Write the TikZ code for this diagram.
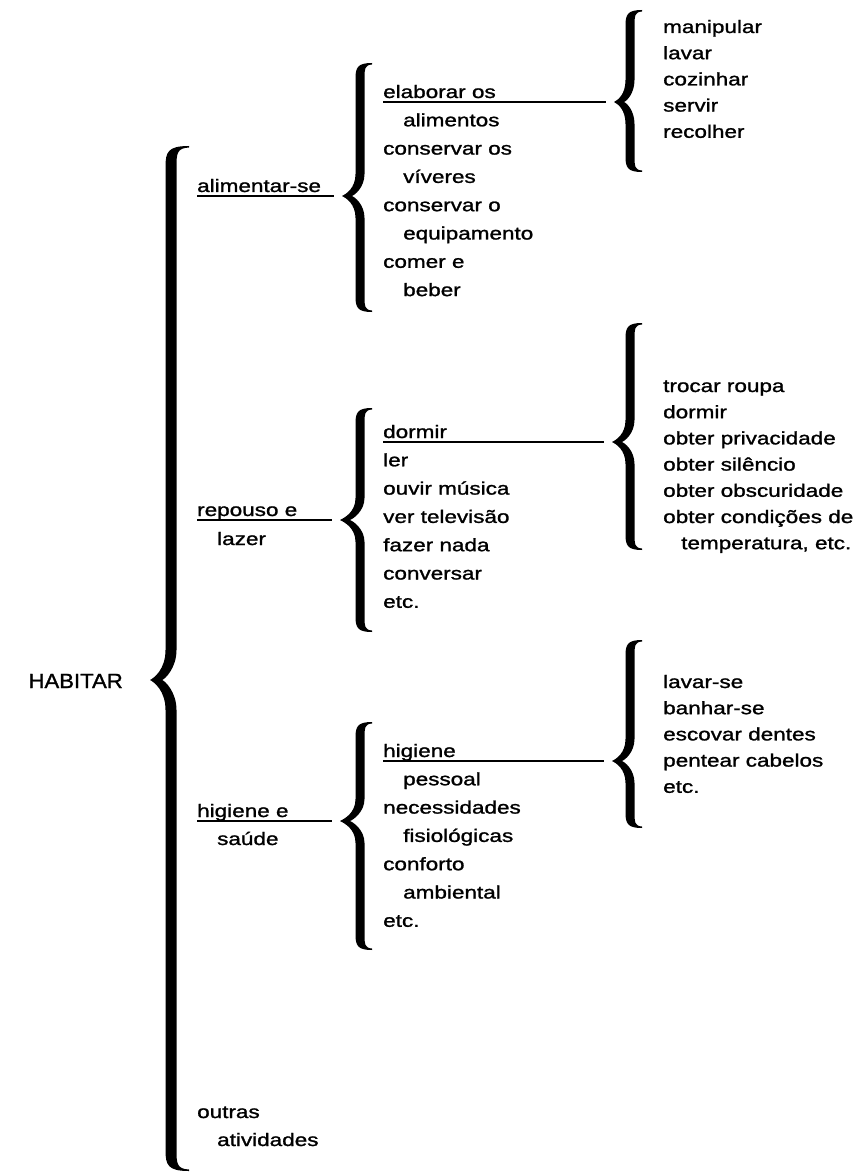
\documentclass[tikz,border=0pt]{standalone}
\usepackage{fontspec}
\usetikzlibrary{calc}
\newfontfamily\labelfont{Liberation Sans}[FakeStretch=1.25,FakeBold=1.3]
\newfontfamily\titlefont{Liberation Sans}[FakeStretch=1.08,FakeBold=1.3]

% Filled curly brace opening to the right.
% #1 name of the tip coordinate, #2 stroke x, #3 top y, #4 tip y, #5 bottom y,
% #6 tip x, #7 half stroke width, #8 reach of the curled ends, #9 radius at the tip
\newcommand\curlybrace[9]{%
  \fill ({#2+#8},{#3})
    .. controls ({#2-#7+2},{#3}) and ({#2-#7},{#3+0.21*#9}) .. ({#2-#7},{#3+0.7*#9})
    -- ({#2-#7},{#4-#9})
    .. controls ({#2-#7},{#4-0.35*#9}) and ({#6+4},{#4-2}) .. ({#6},{#4})
    .. controls ({#6+4},{#4+2}) and ({#2-#7},{#4+0.35*#9}) .. ({#2-#7},{#4+#9})
    -- ({#2-#7},{#5-0.7*#9})
    .. controls ({#2-#7},{#5-0.21*#9}) and ({#2-#7+2},{#5}) .. ({#2+#8},{#5})
    -- ({#2+#8},{#5-1.5})
    .. controls ({#2+#7},{#5-2}) and ({#2+#7},{#5-0.28*#9}) .. ({#2+#7},{#5-0.7*#9})
    -- ({#2+#7},{#4+#9})
    .. controls ({#2+#7},{#4+0.4*#9}) and ({#6+2.2*#7+3},{#4+1}) .. ({#6+2.2*#7},{#4})
    .. controls ({#6+2.2*#7+3},{#4-1}) and ({#2+#7},{#4-0.4*#9}) .. ({#2+#7},{#4-#9})
    -- ({#2+#7},{#3+0.7*#9})
    .. controls ({#2+#7},{#3+0.28*#9}) and ({#2+#7},{#3+2}) .. ({#2+#8},{#3+1.5})
    -- cycle;
  \coordinate (#1) at ({#6},{#4});%
}

\tikzset{
  lbl/.style={anchor=base west, inner sep=0pt,
    font=\labelfont\fontsize{18}{21}\selectfont},
  title/.style={anchor=base east, inner sep=0pt,
    font=\titlefont\fontsize{20.5}{24}\selectfont},
  uline/.style={line width=1.5pt, shorten >=8pt},
}

\begin{document}
\begin{tikzpicture}[x=1pt,y=-1pt]
\useasboundingbox (0,0) rectangle (862,1174);

% root
\node[title] (habitar) at (123,688) {HABITAR};
\curlybrace{root}{171}{146}{680}{1171}{150}{5.5}{18}{30}

% first level
\node[lbl] (alim) at (197,192) {alimentar-se};
\node[lbl] (rep)  at (197,516) {repouso e};
\node[lbl] (laz)  at (217,545) {lazer};
\node[lbl] (hig)  at (197,817) {higiene e};
\node[lbl] (sau)  at (217,845) {saúde};
\node[lbl] (outr) at (197,1118) {outras};
\node[lbl] (ativ) at (217,1146) {atividades};

% second level braces
\curlybrace{bA}{360}{63}{196}{312}{342}{4.5}{12}{22}
\curlybrace{bB}{360}{408}{520}{632}{340}{4.5}{12}{22}
\curlybrace{bC}{360}{722}{821}{950}{340}{4.5}{12}{22}

\draw[uline] ($(alim.base west)+(0,4)$) -- (bA);
\draw[uline] ($(rep.base west)+(0,4)$) -- (bB);
\draw[uline] ($(hig.base west)+(0,4)$) -- (bC);

% second level items
\foreach \t/\d [count=\i from 0] in {elaborar os/0, alimentos/20,
    conservar os/0, víveres/20, conservar o/0, equipamento/20,
    comer e/0, beber/20}
  \node[lbl] (fa\i) at ({383+\d},{98+28.3*\i}) {\t};
\foreach \t/\d [count=\i from 0] in {dormir/0, ler/0, ouvir música/0,
    ver televisão/0, fazer nada/0, conversar/0, etc./0}
  \node[lbl] (fb\i) at ({383+\d},{438+28.3*\i}) {\t};
\foreach \t/\d [count=\i from 0] in {higiene/0, pessoal/20,
    necessidades/0, fisiológicas/20, conforto/0, ambiental/20, etc./0}
  \node[lbl] (fc\i) at ({383+\d},{757+28.3*\i}) {\t};

% third level braces
\curlybrace{cA}{630}{10}{102}{172}{614}{4.5}{12}{22}
\curlybrace{cB}{630}{323}{442}{550}{612}{4.5}{12}{22}
\curlybrace{cC}{630}{640}{761}{828}{612}{4.5}{12}{22}

\draw[uline] ($(fa0.base west)+(0,4)$) -- (cA);
\draw[uline] ($(fb0.base west)+(0,4)$) -- (cB);
\draw[uline] ($(fc0.base west)+(0,4)$) -- (cC);

% third level items
\foreach \t/\d [count=\i from 0] in {manipular/0, lavar/0, cozinhar/0,
    servir/0, recolher/0}
  \node[lbl] (ga\i) at ({663+\d},{33+26.2*\i}) {\t};
\foreach \t/\d [count=\i from 0] in {trocar roupa/0, dormir/0,
    obter privacidade/0, obter silêncio/0, obter obscuridade/0,
    obter condições de/0, {temperatura, etc.}/18}
  \node[lbl] (gb\i) at ({663+\d},{392+26.2*\i}) {\t};
\foreach \t/\d [count=\i from 0] in {lavar-se/0, banhar-se/0,
    escovar dentes/0, pentear cabelos/0, etc./0}
  \node[lbl] (gc\i) at ({663+\d},{688+26.2*\i}) {\t};
\end{tikzpicture}
\end{document}
